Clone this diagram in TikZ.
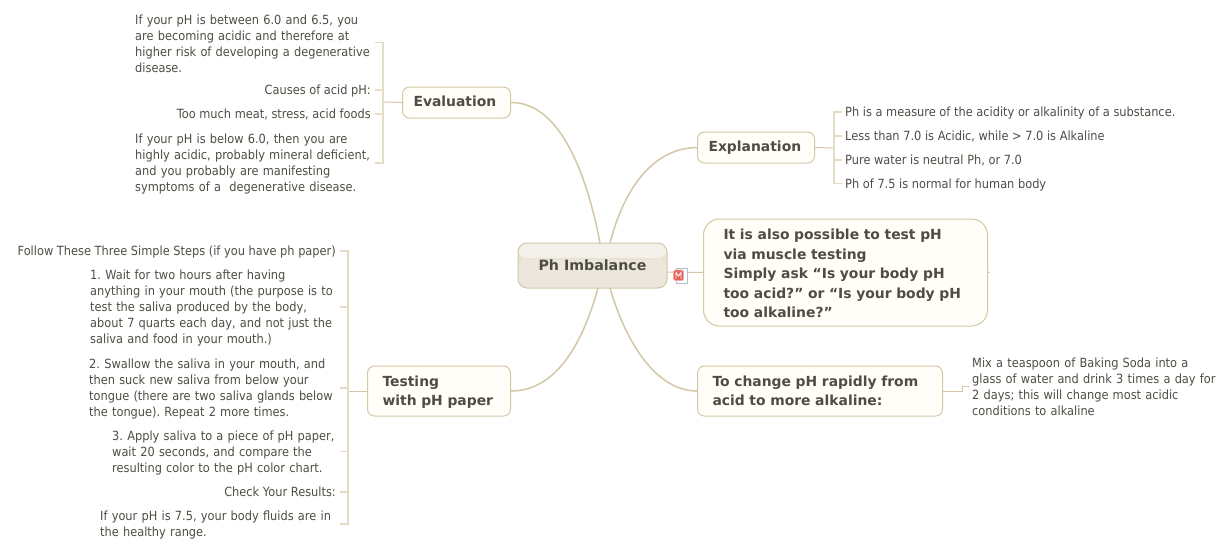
\documentclass[tikz,border=0pt]{standalone}
\usepackage{fontspec}
\usepackage{xcolor}
\usepackage{tikz}
\setmainfont{DejaVu Sans}
\newfontfamily\leaffont[FakeStretch=0.9]{DejaVu Sans}
\frenchspacing
\definecolor{branchcol}{HTML}{D3C7A5}
\definecolor{spinecol}{HTML}{E4DCC4}
\definecolor{boxfill}{HTML}{FFFEF8}
\definecolor{rootfill}{HTML}{EDE6DC}
\definecolor{rootband}{HTML}{F3EFEA}
\definecolor{rootline}{HTML}{E8E2D2}
\definecolor{inkcol}{HTML}{4E4D44}
\definecolor{iconred}{HTML}{E8605A}
\definecolor{iconpink}{HTML}{F2A8A0}
\definecolor{icondoc}{HTML}{B4BECC}
\tikzset{
	topic/.style={draw=branchcol, fill=boxfill, line width=1pt, rounded corners=7pt, text=inkcol,
		font=\bfseries\fontsize{13.9}{19.5}\selectfont, align=left, anchor=west, inner sep=0pt},
	topicline/.style={topic, text height=11pt, text depth=3pt},
	topicpara/.style={topic, execute at begin node={\rule{0pt}{13pt}}},
	rootnode/.style={topic, fill=rootfill, rounded corners=9pt, align=center, anchor=center,
		font=\bfseries\fontsize{14.2}{19.5}\selectfont,
		minimum width=149pt, minimum height=45pt, text height=12pt, text depth=3pt,
		path picture={\fill[rootband] (path picture bounding box.north west) rectangle ++(149pt,-15pt);
			\fill[rootline] ([yshift=-15pt]path picture bounding box.north west) rectangle ++(149pt,-1.5pt);}},
	leaf/.style={text=inkcol, font=\leaffont\fontsize{12.65}{16}\selectfont, anchor=west, inner sep=0pt,
		text height=12pt, text depth=3pt},
	leafright/.style={leaf, anchor=east, inner xsep=4pt},
	leafleft/.style={leaf, inner xsep=3pt},
	para/.style={text=inkcol, font=\leaffont\fontsize{12.65}{16}\selectfont, anchor=west, inner sep=0pt,
		align=left, execute at begin node={\rule{0pt}{12pt}}},
	branch/.style={draw=branchcol, line width=1.5pt},
	stem/.style={draw=branchcol, line width=1pt},
	spine/.style={draw=spinecol, line width=1.3pt},
}
\begin{document}
\begin{tikzpicture}[x=1pt, y=-1pt]
	\useasboundingbox (0,0) rectangle (1230,551);
	% centre and topics
	\node[rootnode] (root) at (592.5,265.5) {Ph Imbalance};
	\node[topicline, minimum width=108pt, minimum height=31pt, text width=86pt, inner xsep=11pt] (evaluation) at (402,102.5) {Evaluation};
	\node[topicline, minimum width=117pt, minimum height=31pt, text width=95pt, inner xsep=11pt] (explanation) at (697,147.5) {Explanation};
	\node[topicpara, minimum width=143pt, minimum height=50pt, text width=113pt, inner xsep=15pt] (testing) at (367,391) {Testing\\with pH paper};
	\node[topic, minimum width=245pt, minimum height=50pt, text width=215pt, inner xsep=15pt] (rapid) at (697,391) {To change pH rapidly from\\acid to more alkaline:};
	\node[topicpara, rounded corners=16pt, minimum width=284pt, minimum height=107pt, text width=244pt, inner xsep=20pt] (muscle) at (703,272.5) {It is also possible to test pH\\via muscle testing\\Simply ask “Is your body pH\\too acid?” or “Is your body pH\\too alkaline?”};
	% curved branches
	\coordinate (rootnw) at (600,243);
	\coordinate (rootne) at (610,243);
	\coordinate (rootsw) at (598,288);
	\coordinate (rootse) at (610,288);
	\coordinate (rootr) at (667,272);
	\coordinate (musclend) at (990,272);
	\path[branch] (evaluation.east) .. controls (565,102) and (590,190) .. (rootnw);
	\path[branch] (explanation.west) .. controls (655,148) and (625,185) .. (rootne);
	\path[branch] (testing.east) .. controls (560,391) and (585,335) .. (rootsw);
	\path[branch] (rapid.west) .. controls (655,391) and (625,340) .. (rootse);
	\path[stem] (rootr) -- (muscle.west);
	\path[stem] (muscle.east) -- (musclend);
	% icon on the centre
	\filldraw[draw=icondoc, fill=white, line width=.8pt] (676,268.5) rectangle (687,283);
	\filldraw[draw=iconpink, fill=iconred, rounded corners=1.5pt, line width=.6pt] (673.5,270) rectangle (683.5,280.5);
	\draw[white, line width=.9pt] (676,278.5) -- (676,272.5) -- (678.5,276) -- (681,272.5) -- (681,278.5);
	% evaluation leaves
	\node[para, text width=240pt] (eval1) at (135,42.5) {If your pH is between 6.0 and 6.5, you\\are becoming acidic and therefore at\\higher risk of developing a degenerative\\disease.};
	\node[leafright] (eval2) at (375,90) {Causes of acid pH:};
	\node[leafright] (eval3) at (375,114) {Too much meat, stress, acid foods};
	\node[para, text width=240pt] (eval4) at (135,163) {If your pH is below 6.0, then you are\\highly acidic, probably mineral deficient,\\and you probably are manifesting\\symptoms of a\ \ degenerative disease.};
	\coordinate (evalhub) at (383,102);
	\path[stem] (evaluation.west) -- (evalhub);
	\path[spine] (eval1.east) -| (evalhub);
	\path[spine] (eval4.east) -| (evalhub);
	\path[spine] (eval2.east) -- (eval2.east -| evalhub);
	\path[spine] (eval3.east) -- (eval3.east -| evalhub);
	% explanation leaves
	\node[leafleft] (expl1) at (842,112) {Ph is a measure of the acidity or alkalinity of a substance.};
	\node[leafleft] (expl2) at (842,136) {Less than 7.0 is Acidic, while > 7.0 is Alkaline};
	\node[leafleft] (expl3) at (842,160) {Pure water is neutral Ph, or 7.0};
	\node[leafleft] (expl4) at (842,183.5) {Ph of 7.5 is normal for human body};
	\coordinate (explhub) at (834,148);
	\path[stem] (explanation.east) -- (explhub);
	\path[spine] (expl1.west) -| (explhub);
	\path[spine] (expl4.west) -| (explhub);
	\path[spine] (expl2.west) -- (expl2.west -| explhub);
	\path[spine] (expl3.west) -- (expl3.west -| explhub);
	% testing leaves
	\node[leafright] (test1) at (340,251) {Follow These Three Simple Steps (if you have ph paper)};
	\node[para, text width=250pt] (test2) at (90,307) {1. Wait for two hours after having\\anything in your mouth (the purpose is to\\test the saliva produced by the body,\\about 7 quarts each day, and not just the\\saliva and food in your mouth.)};
	\node[para, text width=251pt] (test3) at (89,388) {2. Swallow the saliva in your mouth, and\\then suck new saliva from below your\\tongue (there are two saliva glands below\\the tongue). Repeat 2 more times.};
	\node[para, text width=228pt] (test4) at (112,451.5) {3. Apply saliva to a piece of pH paper,\\wait 20 seconds, and compare the\\resulting color to the pH color chart.};
	\node[leafright] (test5) at (340,492) {Check Your Results:};
	\node[para, text width=240pt] (test6) at (100,524) {If your pH is 7.5, your body fluids are in\\the healthy range.};
	\coordinate (testhub) at (348,391);
	\path[stem] (testing.west) -- (testhub);
	\path[spine] (test1.east) -| (testhub);
	\path[spine] (test6.east) -| (testhub);
	\path[spine] (test2.east) -- (test2.east -| testhub);
	\path[spine] (test3.east) -- (test3.east -| testhub);
	\path[spine] (test4.east) -- (test4.east -| testhub);
	\path[spine] (test5.east) -- (test5.east -| testhub);
	% rapid change leaf
	\node[para, text width=258pt] (mix) at (972,385.5) {Mix a teaspoon of Baking Soda into a\\glass of water and drink 3 times a day for\\2 days; this will change most acidic\\conditions to alkaline};
	\coordinate (mixstep) at (962,391);
	\coordinate (mixin) at (969,386);
	\path[stem] (rapid.east) -- (mixstep) |- (mixin);
\end{tikzpicture}
\end{document}
